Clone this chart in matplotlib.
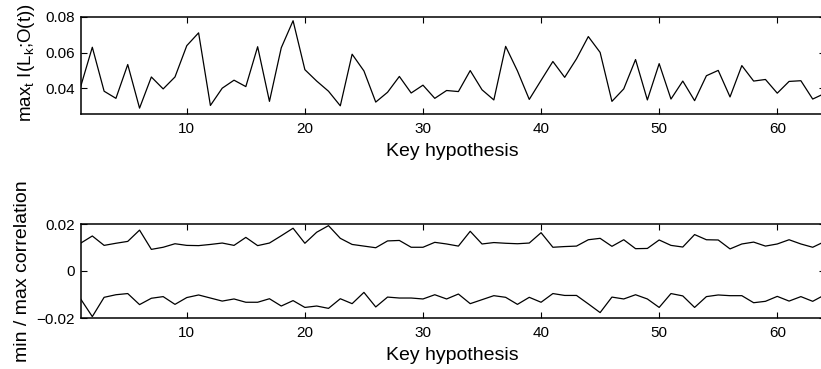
import numpy as np
import matplotlib
matplotlib.use('Agg')
import matplotlib.pyplot as plt

plt.rcParams['font.family'] = ['Liberation Sans', 'DejaVu Sans']
plt.rcParams['mathtext.default'] = 'regular'

keys = np.arange(1, 65)

max_info = [0.0406, 0.0630, 0.0383, 0.0343, 0.0533, 0.0288, 0.0463, 0.0396,
            0.0463, 0.0639, 0.0711, 0.0303, 0.0400, 0.0445, 0.0409, 0.0633,
            0.0326, 0.0627, 0.0779, 0.0504, 0.0440, 0.0383, 0.0301, 0.0591,
            0.0497, 0.0322, 0.0377, 0.0466, 0.0373, 0.0417, 0.0343, 0.0387,
            0.0381, 0.0499, 0.0391, 0.0334, 0.0635, 0.0497, 0.0337, 0.0444,
            0.0550, 0.0461, 0.0565, 0.0690, 0.0601, 0.0326, 0.0396, 0.0561,
            0.0334, 0.0538, 0.0339, 0.0440, 0.0330, 0.0470, 0.0500, 0.0351,
            0.0527, 0.0440, 0.0449, 0.0372, 0.0438, 0.0442, 0.0339, 0.0370]

max_corr = [0.0118, 0.0149, 0.0109, 0.0118, 0.0126, 0.0174, 0.0092, 0.0101,
            0.0116, 0.0109, 0.0108, 0.0113, 0.0119, 0.0109, 0.0143, 0.0108,
            0.0119, 0.0150, 0.0182, 0.0118, 0.0165, 0.0193, 0.0139, 0.0113,
            0.0106, 0.0099, 0.0128, 0.0130, 0.0101, 0.0101, 0.0122, 0.0115,
            0.0106, 0.0169, 0.0115, 0.0121, 0.0118, 0.0116, 0.0119, 0.0163,
            0.0101, 0.0104, 0.0106, 0.0133, 0.0139, 0.0105, 0.0133, 0.0095,
            0.0096, 0.0132, 0.0109, 0.0102, 0.0155, 0.0133, 0.0132, 0.0094,
            0.0115, 0.0123, 0.0106, 0.0115, 0.0133, 0.0115, 0.0101, 0.0125]

min_corr = [-0.0118, -0.0194, -0.0112, -0.0101, -0.0096, -0.0143, -0.0116, -0.0109,
            -0.0142, -0.0113, -0.0102, -0.0115, -0.0128, -0.0119, -0.0133, -0.0133,
            -0.0118, -0.0149, -0.0126, -0.0155, -0.0149, -0.0159, -0.0118, -0.0139,
            -0.0091, -0.0153, -0.0111, -0.0115, -0.0115, -0.0119, -0.0101, -0.0119,
            -0.0098, -0.0139, -0.0122, -0.0105, -0.0112, -0.0142, -0.0112, -0.0133,
            -0.0096, -0.0104, -0.0104, -0.0140, -0.0177, -0.0111, -0.0119, -0.0101,
            -0.0119, -0.0155, -0.0096, -0.0106, -0.0155, -0.0109, -0.0102, -0.0105,
            -0.0105, -0.0135, -0.0129, -0.0108, -0.0128, -0.0109, -0.0129, -0.0102]

W, H = 821, 369
fig = plt.figure(figsize=(W / 100, H / 100), dpi=100)


def box(px_left, px_top, px_right, px_bottom):
    return [px_left / W, 1 - px_bottom / H, (px_right - px_left) / W, (px_bottom - px_top) / H]


def style(ax):
    ax.tick_params(direction='in', top=True, right=True, length=4, width=0.8,
                   labelsize=11)
    ax.tick_params(axis='x', pad=6)
    ax.tick_params(axis='y', pad=4)
    for s in ax.spines.values():
        s.set_linewidth(1.1)
    ax.set_xlim(1, 64)
    ax.set_xticks([10, 20, 30, 40, 50, 60])
    ax.set_xlabel('Key hypothesis', fontsize=14, labelpad=5)


ax1 = fig.add_axes(box(80.5, 17, 824.5, 114))
ax1.plot(keys, max_info, color='black', lw=0.9)
style(ax1)
ax1.set_ylim(0.0255, 0.08)
ax1.set_yticks([0.04, 0.06, 0.08])
ax1.set_yticklabels(['0.04', '0.06', '0.08'])
ax1.set_ylabel('max$_t$ I(L$_k$;O(t))', fontsize=13.5, labelpad=6)
ax1.yaxis.label.set_y(0.53)

ax2 = fig.add_axes(box(80.5, 224, 824.5, 318))
ax2.plot(keys, max_corr, color='black', lw=0.9)
ax2.plot(keys, min_corr, color='black', lw=0.9)
style(ax2)
ax2.set_ylim(-0.02, 0.02)
ax2.set_yticks([-0.02, 0, 0.02])
ax2.set_yticklabels(['\u22120.02', '0', '0.02'])
ax2.set_ylabel('min / max correlation', fontsize=14, labelpad=4)

fig.savefig('out.png', dpi=100)
